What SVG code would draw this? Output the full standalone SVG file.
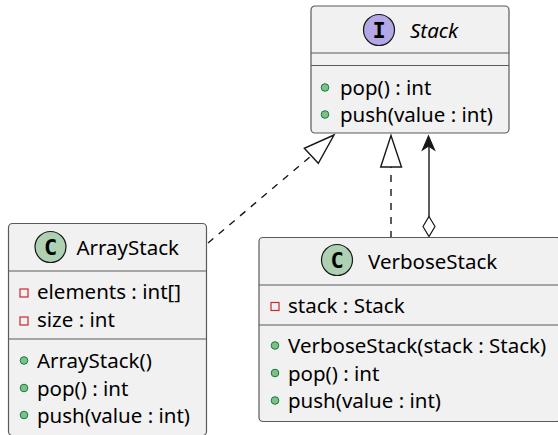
<svg xmlns="http://www.w3.org/2000/svg" width="558" height="435" viewBox="0 0 558 435">
  <style>
    text { font-family: "Noto Sans", "Open Sans", sans-serif; font-size: 20.5px; fill: #000; }
    .box { fill: #F1F1F1; stroke: #5a5a5a; stroke-width: 1.2; }
    .sep { stroke: #5a5a5a; stroke-width: 1.2; }
    .spot { stroke: #181818; stroke-width: 1.2; }
    .letter { font-family: "DejaVu Sans Mono", monospace; font-weight: bold; font-size: 22px; text-anchor: middle; }
    .pub { fill: #84BE84; stroke: #038048; stroke-width: 1; }
    .priv { fill: none; stroke: #C82930; stroke-width: 1.2; }
    .edge { fill: none; stroke: #181818; stroke-width: 1.4; }
    .dash { stroke-dasharray: 7 7; }
  </style>

  <!-- connectors -->
  <g id="connectors">
    <!-- ArrayStack realizes Stack -->
    <path class="edge dash" d="M208,243 L311,156"/>
    <polygon points="334,135 304.3,148.3 318.3,163.3" fill="#fff" stroke="#181818" stroke-width="1.4"/>
    <!-- VerboseStack realizes Stack -->
    <path class="edge dash" d="M391,238 L391,167"/>
    <polygon points="391,135.5 380.7,167 401.5,167" fill="#fff" stroke="#181818" stroke-width="1.4"/>
    <!-- VerboseStack aggregates Stack -->
    <path class="edge" d="M429,217 L429,139"/>
    <polygon points="428.5,136 422.5,150 428.5,146 434.5,150" fill="#181818" stroke="#181818" stroke-width="1.2"/>
    <polygon points="429,216.5 435,226.5 429,236.5 423,226.5" fill="#fff" stroke="#181818" stroke-width="1.2"/>
  </g>

  <!-- interface Stack -->
  <g id="Stack">
    <rect class="box" x="311" y="6" width="198" height="127" rx="4"/>
    <line class="sep" x1="311" y1="53" x2="509" y2="53"/>
    <line class="sep" x1="311" y1="65.5" x2="509" y2="65.5"/>
    <circle class="spot" cx="379" cy="30" r="15.5" fill="#B4A7E5"/>
    <text class="letter" x="379" y="37.5">I</text>
    <text x="410" y="37.5" font-style="italic">Stack</text>
    <circle class="pub" cx="325" cy="87.5" r="3.8"/>
    <text x="340" y="95">pop() : int</text>
    <circle class="pub" cx="325" cy="114.5" r="3.8"/>
    <text x="340" y="122">push(value : int)</text>
  </g>

  <!-- class ArrayStack -->
  <g id="ArrayStack">
    <rect class="box" x="8.5" y="223.5" width="198" height="212" rx="4"/>
    <line class="sep" x1="8.5" y1="271" x2="206.5" y2="271"/>
    <line class="sep" x1="8.5" y1="339" x2="206.5" y2="339"/>
    <circle class="spot" cx="50.5" cy="247" r="15.5" fill="#ADD1B2"/>
    <text class="letter" x="50.5" y="254.5">C</text>
    <text x="76.5" y="254.5">ArrayStack</text>
    <rect class="priv" x="20" y="289" width="8" height="8"/>
    <text x="37" y="299">elements : int[]</text>
    <rect class="priv" x="20" y="317" width="8" height="8"/>
    <text x="37" y="327">size : int</text>
    <circle class="pub" cx="24" cy="360.5" r="3.8"/>
    <text x="37" y="368">ArrayStack()</text>
    <circle class="pub" cx="24" cy="388" r="3.8"/>
    <text x="37" y="395.5">pop() : int</text>
    <circle class="pub" cx="24" cy="415" r="3.8"/>
    <text x="37" y="422.5">push(value : int)</text>
  </g>

  <!-- class VerboseStack -->
  <g id="VerboseStack">
    <rect class="box" x="259" y="237.5" width="302" height="184" rx="4"/>
    <line class="sep" x1="259" y1="285" x2="561" y2="285"/>
    <line class="sep" x1="259" y1="325" x2="561" y2="325"/>
    <circle class="spot" cx="337" cy="260" r="15.5" fill="#ADD1B2"/>
    <text class="letter" x="337" y="267.5">C</text>
    <text x="368" y="268.5">VerboseStack</text>
    <rect class="priv" x="271" y="302.5" width="8" height="8"/>
    <text x="288" y="313">stack : Stack</text>
    <circle class="pub" cx="275" cy="345.5" r="3.8"/>
    <text x="288" y="353">VerboseStack(stack : Stack)</text>
    <circle class="pub" cx="275" cy="373" r="3.8"/>
    <text x="288" y="380.5">pop() : int</text>
    <circle class="pub" cx="275" cy="400.5" r="3.8"/>
    <text x="288" y="408">push(value : int)</text>
  </g>
</svg>
